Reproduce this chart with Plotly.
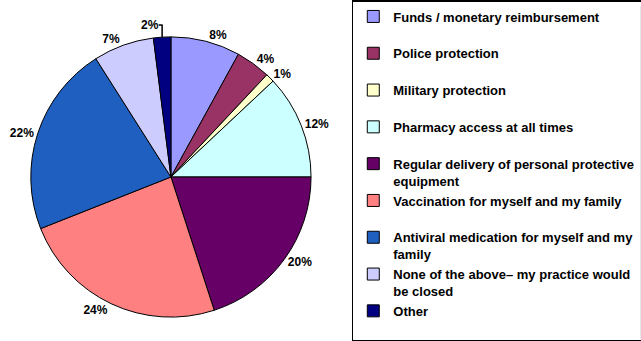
import plotly.graph_objects as go

labels = [
    "Funds / monetary reimbursement",
    "Police protection",
    "Military protection",
    "Pharmacy access at all times",
    "Regular delivery of personal protective<br>equipment",
    "Vaccination for myself and my family",
    "Antiviral medication for myself and my<br>family",
    "None of the above\u2013 my practice would<br>be closed",
    "Other",
]
values = [8, 4, 1, 12, 20, 24, 22, 7, 2]
colors = ["#9999FF", "#993366", "#FFFFCC", "#CCFFFF", "#660066",
          "#FF8080", "#1F5FC0", "#CCCCFF", "#000080"]

# pad single-line legend entries to two lines so spacing is uniform
legend_labels = [l if "<br>" in l else l + "<br> " for l in labels]

W, H = 641, 341
fig = go.Figure(go.Pie(
    labels=legend_labels,
    values=values,
    sort=False,
    direction="clockwise",
    rotation=0,
    marker=dict(colors=colors, line=dict(color="black", width=1)),
    textposition="outside",
    texttemplate="%{value}%",
    textfont=dict(family="Arial", size=12, color="black", weight="bold"),
    domain=dict(x=[31 / W, 313 / W], y=[1 - 318 / H, 1 - 36 / H]),
    hoverinfo="label+percent",
))

fig.update_layout(
    width=W, height=H,
    margin=dict(l=0, r=0, t=0, b=0),
    paper_bgcolor="white",
    plot_bgcolor="white",
    showlegend=True,
    legend=dict(
        x=354 / W, xanchor="left",
        y=1 - 18 / H, yanchor="top",
        bordercolor="black", borderwidth=1.5,
        bgcolor="white",
        valign="top",
        font=dict(family="Arial", size=13, color="black", weight="bold"),
        itemwidth=30,
    ),
)

fig.write_html("out.html")
